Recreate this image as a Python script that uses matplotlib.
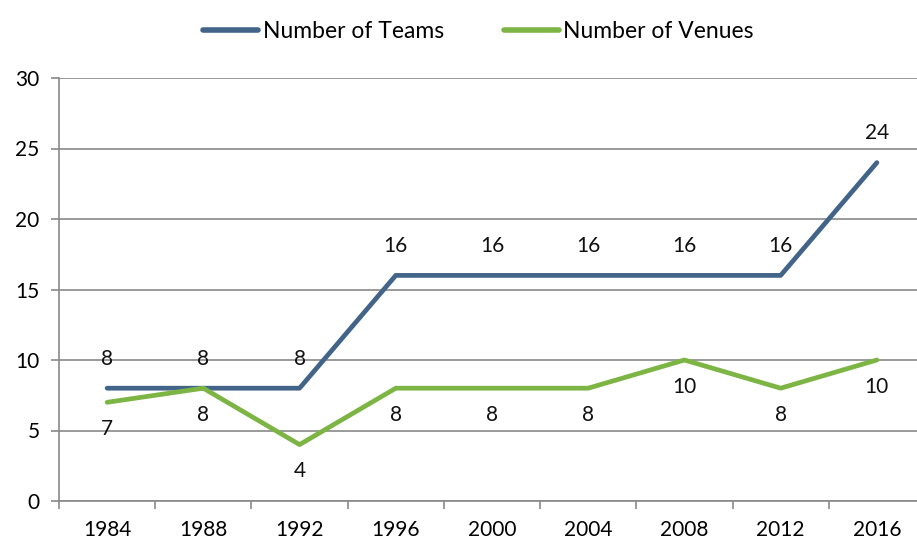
import matplotlib
matplotlib.use("Agg")
import matplotlib.pyplot as plt

years = ["1984", "1988", "1992", "1996", "2000", "2004", "2008", "2012", "2016"]
teams = [8, 8, 8, 16, 16, 16, 16, 16, 24]
venues = [7, 8, 4, 8, 8, 8, 10, 8, 10]

team_color = "#426489"
venue_color = "#7DB545"
grid_color = "#898989"

plt.rcParams["font.family"] = ["Lato", "DejaVu Sans"]

fig = plt.figure(figsize=(9.17, 5.45), dpi=100)
ax = fig.add_axes([59 / 917, 44 / 545, 866 / 917, 423 / 545])

x = list(range(len(years)))
ax.plot(x, teams, color=team_color, lw=3.4, solid_capstyle="round", label="Number of Teams", zorder=3)
ax.plot(x, venues, color=venue_color, lw=3.4, solid_capstyle="round", label="Number of Venues", zorder=3)

for i, v in enumerate(teams):
    ax.annotate(str(v), (i, v), xytext=(0, 14), textcoords="offset points",
                ha="center", va="bottom", fontsize=15, color="#111111")
for i, v in enumerate(venues):
    ax.annotate(str(v), (i, v), xytext=(0, -12), textcoords="offset points",
                ha="center", va="top", fontsize=15, color="#111111")

ax.set_xlim(-0.5, 8.5)
ax.set_ylim(0, 30)
ax.set_yticks([0, 5, 10, 15, 20, 25, 30])
ax.set_xticks(x)
ax.set_xticklabels(years)
ax.set_xticks([i - 0.5 for i in range(len(years) + 1)], minor=True)
ax.tick_params(axis="x", which="major", length=0, pad=14, labelsize=15)
ax.tick_params(axis="x", which="minor", length=6, color=grid_color, width=1.2)
ax.tick_params(axis="y", length=6, color=grid_color, width=1.2, pad=8, labelsize=15)
ax.grid(axis="y", color=grid_color, lw=1.2)
ax.set_axisbelow(True)
for s in ["top", "right"]:
    ax.spines[s].set_visible(False)
for s in ["left", "bottom"]:
    ax.spines[s].set_color(grid_color)
    ax.spines[s].set_linewidth(1.2)

leg = fig.legend(loc="upper center", bbox_to_anchor=(0.522, 1.0), ncol=2, frameon=False,
                 fontsize=16.5, handlelength=2.4, handletextpad=0.2, columnspacing=2.6)
for h in leg.get_lines():
    h.set_linewidth(4)

fig.savefig("out.png", dpi=100)
